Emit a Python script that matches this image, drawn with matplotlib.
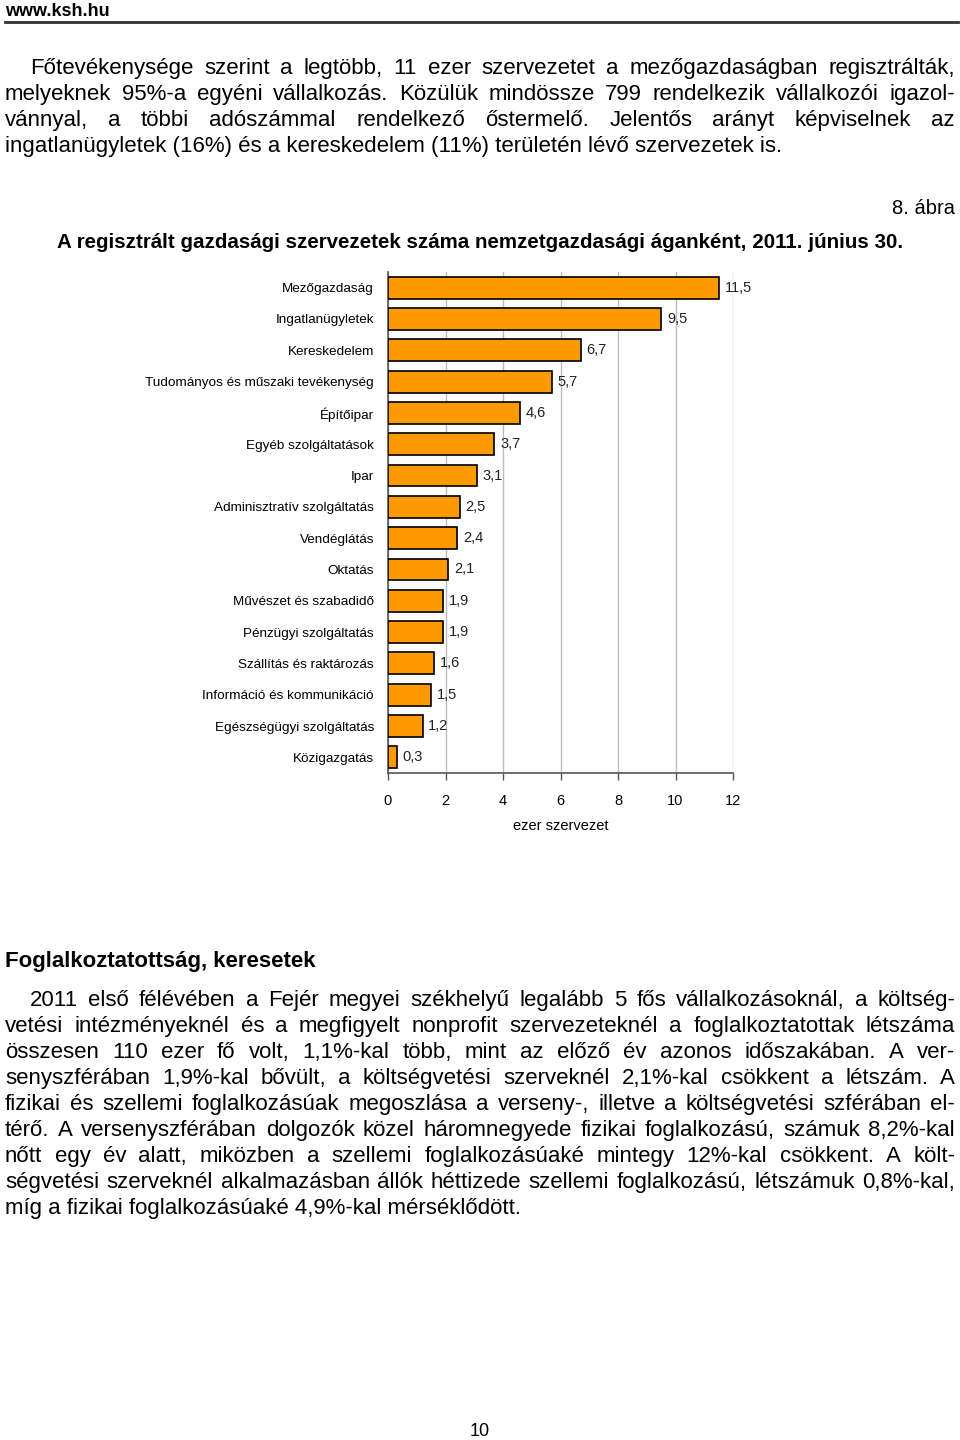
import matplotlib
matplotlib.use("Agg")
import matplotlib.pyplot as plt
from matplotlib import font_manager

# ágazatok és szervezetek száma (ezer)
categories = ['Mezőgazdaság', 'Ingatlanügyletek', 'Kereskedelem',
              'Tudományos és műszaki tevékenység', 'Építőipar', 'Egyéb szolgáltatások',
              'Ipar', 'Adminisztratív szolgáltatás', 'Vendéglátás', 'Oktatás',
              'Művészet és szabadidő', 'Pénzügyi szolgáltatás', 'Szállítás és raktározás',
              'Információ és kommunikáció', 'Egészségügyi szolgáltatás', 'Közigazgatás']
values = [11.5, 9.5, 6.7, 5.7, 4.6, 3.7, 3.1, 2.5, 2.4, 2.1, 1.9, 1.9, 1.6, 1.5, 1.2, 0.3]
value_labels = ['11,5', '9,5', '6,7', '5,7', '4,6', '3,7', '3,1', '2,5', '2,4', '2,1',
                '1,9', '1,9', '1,6', '1,5', '1,2', '0,3']
xticks = [0, 2, 4, 6, 8, 10, 12]

para1 = [
    "Főtevékenysége szerint a legtöbb, 11 ezer szervezetet a mezőgazdaságban regisztrálták,",
    "melyeknek 95%-a egyéni vállalkozás. Közülük mindössze 799 rendelkezik vállalkozói igazol-",
    "vánnyal, a többi adószámmal rendelkező őstermelő. Jelentős arányt képviselnek az",
    "ingatlanügyletek (16%) és a kereskedelem (11%) területén lévő szervezetek is.",
]
para2 = [
    "2011 első félévében a Fejér megyei székhelyű legalább 5 fős vállalkozásoknál, a költség-",
    "vetési intézményeknél és a megfigyelt nonprofit szervezeteknél a foglalkoztatottak létszáma",
    "összesen 110 ezer fő volt, 1,1%-kal több, mint az előző év azonos időszakában. A ver-",
    "senyszférában 1,9%-kal bővült, a költségvetési szerveknél 2,1%-kal csökkent a létszám. A",
    "fizikai és szellemi foglalkozásúak megoszlása a verseny-, illetve a költségvetési szférában el-",
    "térő. A versenyszférában dolgozók közel háromnegyede fizikai foglalkozású, számuk 8,2%-kal",
    "nőtt egy év alatt, miközben a szellemi foglalkozásúaké mintegy 12%-kal csökkent. A költ-",
    "ségvetési szerveknél alkalmazásban állók héttizede szellemi foglalkozású, létszámuk 0,8%-kal,",
    "míg a fizikai foglalkozásúaké 4,9%-kal mérséklődött.",
]

names = {f.name for f in font_manager.fontManager.ttflist}
narrow = 'Liberation Sans Narrow' if 'Liberation Sans Narrow' in names else 'Liberation Sans'
body = 'Liberation Sans'

W, H = 960, 1440
fig = plt.figure(figsize=(9.6, 14.4), dpi=100)
renderer = fig.canvas.get_renderer()


def px(x, y):
    return x / W, 1 - y / H


def put(x, y, s, **kw):
    fx, fy = px(x, y)
    kw.setdefault('va', 'center')
    return fig.text(fx, fy, s, **kw)


def paragraph(lines, y0, step, size=16):
    # y0: baseline of the first line, in pixels from top
    for i, line in enumerate(lines):
        y = y0 + i * step
        x0 = 30 if i == 0 else 5
        if i == len(lines) - 1:
            put(x0, y, line, fontsize=size, family=body, va='baseline')
            continue
        words = line.split(' ')
        texts = [put(0, y, w, fontsize=size, family=body, va='baseline') for w in words]
        widths = [t.get_window_extent(renderer).width for t in texts]
        gap = (955 - x0 - sum(widths)) / (len(words) - 1)
        x = x0
        for t, w in zip(texts, widths):
            t.set_x(x / W)
            x += w + gap


# fejléc
put(5, 11, 'www.ksh.hu', fontsize=13, fontweight='bold', family=body)
fig.add_artist(plt.Line2D([5 / W, 958 / W], [1 - 22 / H] * 2, color='#333333', lw=2))

paragraph(para1, 74, 26)

put(955, 208, '8. ábra', fontsize=14.5, family=narrow, ha='right')
put(57, 242, 'A regisztrált gazdasági szervezetek száma nemzetgazdasági áganként, 2011. június 30.',
    fontsize=14.8, fontweight='bold', family=narrow)

# diagram
ax = fig.add_axes([388 / W, 1 - 773 / H, 345 / W, 501 / H])
pos = list(range(len(categories)))
ax.barh(pos, values, height=0.7, color='#FF9900', edgecolor='black', linewidth=1.2, zorder=3)
for p, v, lab in zip(pos, values, value_labels):
    ax.text(v + 0.2, p, lab, va='center', ha='left', fontsize=10.5, family=narrow, color='#222222', zorder=4)
ax.set_ylim(len(categories) - 0.5, -0.5)
ax.set_xlim(0, 12)
ax.set_yticks(pos)
ax.set_yticklabels(categories, fontsize=9.7, family=narrow)
ax.tick_params(axis='y', length=0, pad=10)
ax.set_xticks(xticks)
ax.set_xticklabels([str(t) for t in xticks], fontsize=10.5, family=narrow)
ax.tick_params(axis='x', direction='out', length=5, width=1, color='#555555', pad=10)
ax.xaxis.grid(True, color='#BBBBBB', lw=1, zorder=0)
for s in ['top', 'right']:
    ax.spines[s].set_visible(False)
for s in ['left', 'bottom']:
    ax.spines[s].set_color('#555555')
    ax.spines[s].set_linewidth(1.2)
ax.set_xlabel('ezer szervezet', fontsize=10.5, family=narrow, labelpad=8)

put(5, 961, 'Foglalkoztatottság, keresetek', fontsize=16, fontweight='bold', family=body)
paragraph(para2, 1006, 26)

put(480, 1431, '10', fontsize=13, family=body, ha='center')

fig.savefig('out.png', dpi=100)
